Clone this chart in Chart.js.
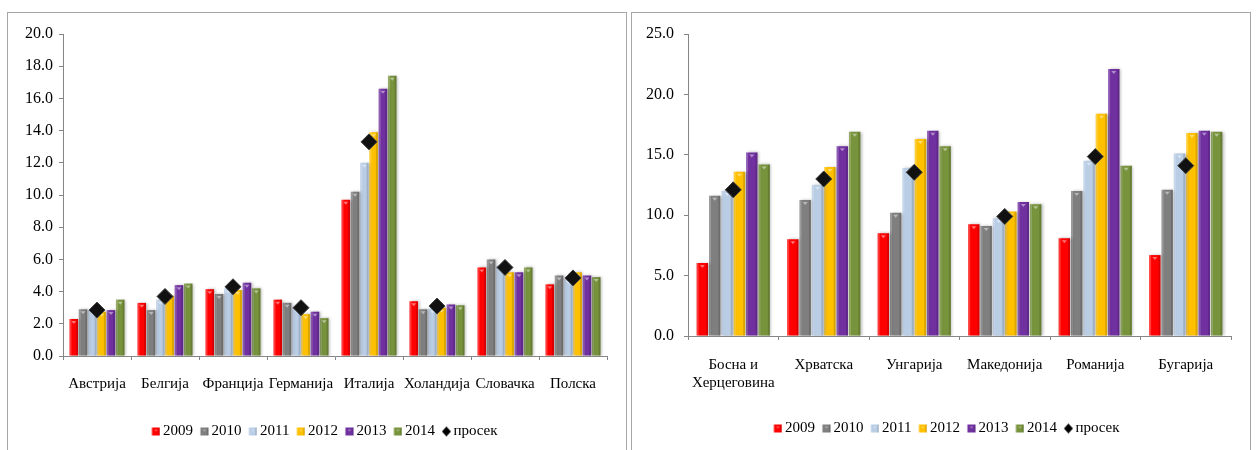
<!DOCTYPE html>
<html>
<head>
<meta charset="utf-8">
<script src="https://cdn.jsdelivr.net/npm/chart.js@4.4.1/dist/chart.umd.min.js"></script>
<style>
  body { margin: 0; background: #fff; width: 1256px; height: 450px; overflow: hidden; position: relative; }
  .panel { position: absolute; top: 12px; width: 620px; height: 460px; border: 1px solid #a6a6a6; box-sizing: border-box; }
  #p1 { left: 7px; }
  #p2 { left: 631px; }
  canvas { position: absolute; left: 0; top: 0; }
</style>
</head>
<body>
<div class="panel" id="p1"><canvas id="leftChart" width="618" height="436"></canvas></div>
<div class="panel" id="p2"><canvas id="rightChart" width="618" height="433"></canvas></div>

<script>
/* ============================
   DATOS
============================ */
const years = ["2009", "2010", "2011", "2012", "2013", "2014"];
const avgLabel = "просек";

const leftCountries = ["Австрија", "Белгија", "Франција", "Германија", "Италија", "Холандија", "Словачка", "Полска"];
const left2009 = [2.3, 3.3, 4.15, 3.5, 9.7, 3.4, 5.5, 4.45];
const left2010 = [2.9, 2.85, 3.85, 3.3, 10.2, 2.9, 6.0, 5.0];
const left2011 = [2.85, 3.5, 4.2, 3.0, 12.0, 2.95, 5.6, 4.8];
const left2012 = [2.75, 3.75, 4.1, 2.6, 13.9, 3.0, 5.2, 5.2];
const left2013 = [2.85, 4.4, 4.55, 2.75, 16.6, 3.2, 5.2, 5.0];
const left2014 = [3.5, 4.5, 4.2, 2.35, 17.4, 3.15, 5.5, 4.9];
const leftAvg  = [2.85, 3.7, 4.3, 3.0, 13.3, 3.1, 5.5, 4.85];
const leftTicks = [0, 2, 4, 6, 8, 10, 12, 14, 16, 18, 20];

const rightCountries = [["Босна и", "Херцеговина"], "Хрватска", "Унгарија", "Македонија", "Романија", "Бугарија"];
const right2009 = [6.05, 8.0, 8.5, 9.25, 8.1, 6.7];
const right2010 = [11.6, 11.25, 10.2, 9.1, 12.0, 12.1];
const right2011 = [12.0, 12.5, 13.9, 9.75, 14.5, 15.1];
const right2012 = [13.6, 14.0, 16.3, 10.3, 18.4, 16.8];
const right2013 = [15.2, 15.7, 17.0, 11.1, 22.1, 17.0];
const right2014 = [14.2, 16.9, 15.7, 10.9, 14.1, 16.9];
const rightAvg  = [12.1, 13.0, 13.55, 9.9, 14.85, 14.1];
const rightTicks = [0, 5, 10, 15, 20, 25];

const barColors = ["#ff0000", "#7f7f7f", "#b9cde5", "#ffc000", "#7030a0", "#77933c"];

const FONT = "'Liberation Serif', 'Times New Roman', serif";

/* ============================
   ICONOS DE LEYENDA
   (el cuadrado va pegado al texto, como en Excel)
============================ */
function legendIcon(color, diamond) {
    const c = document.createElement("canvas");
    c.width = 18;
    c.height = 12;
    const g = c.getContext("2d");
    const cx = 13.5, cy = 6;
    if (diamond) {
        g.fillStyle = "#000";
        g.beginPath();
        g.moveTo(cx, cy - 5);
        g.lineTo(cx + 4.5, cy);
        g.lineTo(cx, cy + 5);
        g.lineTo(cx - 4.5, cy);
        g.closePath();
        g.fill();
    } else {
        g.fillStyle = color;
        g.fillRect(cx - 4, cy - 4, 8, 8);
        g.fillStyle = "rgba(255,255,255,0.35)";
        g.beginPath();
        g.moveTo(cx - 2, cy - 2);
        g.lineTo(cx + 2, cy - 2);
        g.lineTo(cx, cy);
        g.closePath();
        g.fill();
        g.fillStyle = "rgba(0,0,0,0.15)";
        g.fillRect(cx + 2.5, cy - 4, 1.5, 8);
    }
    return c;
}

/* ============================
   ESTILO 3D DE LAS BARRAS
============================ */
const barGloss = {
    id: "barGloss",
    beforeDatasetDraw(chart, args) {
        if (args.meta.type !== "bar") return;
        const ctx = chart.ctx;
        ctx.save();
        ctx.shadowColor = "rgba(0,0,0,0.28)";
        ctx.shadowBlur = 3;
        ctx.shadowOffsetX = 1.5;
    },
    afterDatasetDraw(chart, args) {
        if (args.meta.type !== "bar") return;
        const ctx = chart.ctx;
        ctx.restore();
        ctx.save();
        args.meta.data.forEach(bar => {
            const { x, y, width, base } = bar.getProps(["x", "y", "width", "base"], true);
            const left = x - width / 2;
            ctx.fillStyle = "rgba(255,255,255,0.22)";
            ctx.fillRect(left, y, 2, base - y);
            ctx.fillStyle = "rgba(0,0,0,0.14)";
            ctx.fillRect(left + width - 2, y, 2, base - y);
            ctx.fillStyle = "rgba(255,255,255,0.45)";
            ctx.beginPath();
            ctx.moveTo(x - 2.5, y + 2);
            ctx.lineTo(x + 2.5, y + 2);
            ctx.lineTo(x, y + 5);
            ctx.closePath();
            ctx.fill();
        });
        ctx.restore();
    }
};

// desplaza la leyenda para centrarla como en la imagen
const legendShift = {
    id: "legendShift",
    afterLayout(chart, args, opts) {
        const lg = chart.legend;
        if (!lg) return;
        lg.left += opts.dx;
        lg.right += opts.dx;
    }
};

/* ============================
   GRÁFICO
============================ */
function makeChart(id, labels, series, avg, ticks, cfg) {
    const datasets = series.map((values, i) => ({
        label: years[i],
        data: values,
        backgroundColor: barColors[i],
        borderWidth: 0,
        categoryPercentage: 0.82,
        barPercentage: 0.92,
        order: 1
    }));
    datasets.push({
        type: "line",
        label: avgLabel,
        data: avg,
        showLine: false,
        pointStyle: "rectRot",
        pointRadius: 8,
        pointBackgroundColor: "#111",
        pointBorderColor: "#3c3c3c",
        pointBorderWidth: 1,
        backgroundColor: "#000",
        borderColor: "#000",
        order: 0
    });

    const axisColor = "#868686";

    return new Chart(document.getElementById(id), {
        type: "bar",
        data: { labels: labels, datasets: datasets },
        plugins: [barGloss, legendShift],
        options: {
            responsive: false,
            animation: false,
            layout: { padding: { top: 21, right: 19, left: 0, bottom: 0 } },
            plugins: {
                tooltip: { enabled: false },
                legendShift: { dx: cfg.legendDx },
                legend: {
                    position: "bottom",
                    labels: {
                        usePointStyle: true,
                        boxWidth: 8,
                        boxHeight: 8,
                        padding: 3,
                        color: "#000",
                        font: { family: FONT, size: 15 },
                        sort: (a, b) => a.datasetIndex - b.datasetIndex,
                        generateLabels: chart => {
                            const items = Chart.defaults.plugins.legend.labels.generateLabels(chart);
                            items.forEach(it => {
                                const isAvg = it.datasetIndex === years.length;
                                it.pointStyle = legendIcon(isAvg ? "#000" : barColors[it.datasetIndex], isAvg);
                            });
                            return items;
                        }
                    }
                }
            },
            scales: {
                x: {
                    grid: { display: true, drawOnChartArea: false, drawTicks: true, tickLength: 4, color: axisColor },
                    border: { display: true, color: axisColor },
                    ticks: { color: "#000", padding: cfg.labelPad, maxRotation: 0, autoSkip: false, font: { family: FONT, size: 15 } },
                    afterFit: s => { s.height = cfg.xHeight; }
                },
                y: {
                    min: 0,
                    max: ticks[ticks.length - 1],
                    afterBuildTicks: s => { s.ticks = ticks.map(v => ({ value: v })); },
                    grid: { display: true, drawOnChartArea: false, drawTicks: true, tickLength: 4, color: axisColor },
                    border: { display: true, color: axisColor },
                    ticks: { color: "#000", padding: cfg.tickPad, font: { family: FONT, size: 16 }, callback: v => Number(v).toFixed(1) },
                    afterFit: s => { s.width = cfg.yWidth; }
                }
            }
        }
    });
}

makeChart("leftChart", leftCountries,
    [left2009, left2010, left2011, left2012, left2013, left2014], leftAvg, leftTicks,
    { yWidth: 55, tickPad: 6, labelPad: 15, xHeight: 65, legendDx: 15 });

makeChart("rightChart", rightCountries,
    [right2009, right2010, right2011, right2012, right2013, right2014], rightAvg, rightTicks,
    { yWidth: 56, tickPad: 10, labelPad: 16, xHeight: 82, legendDx: 13 });
</script>
</body>
</html>
